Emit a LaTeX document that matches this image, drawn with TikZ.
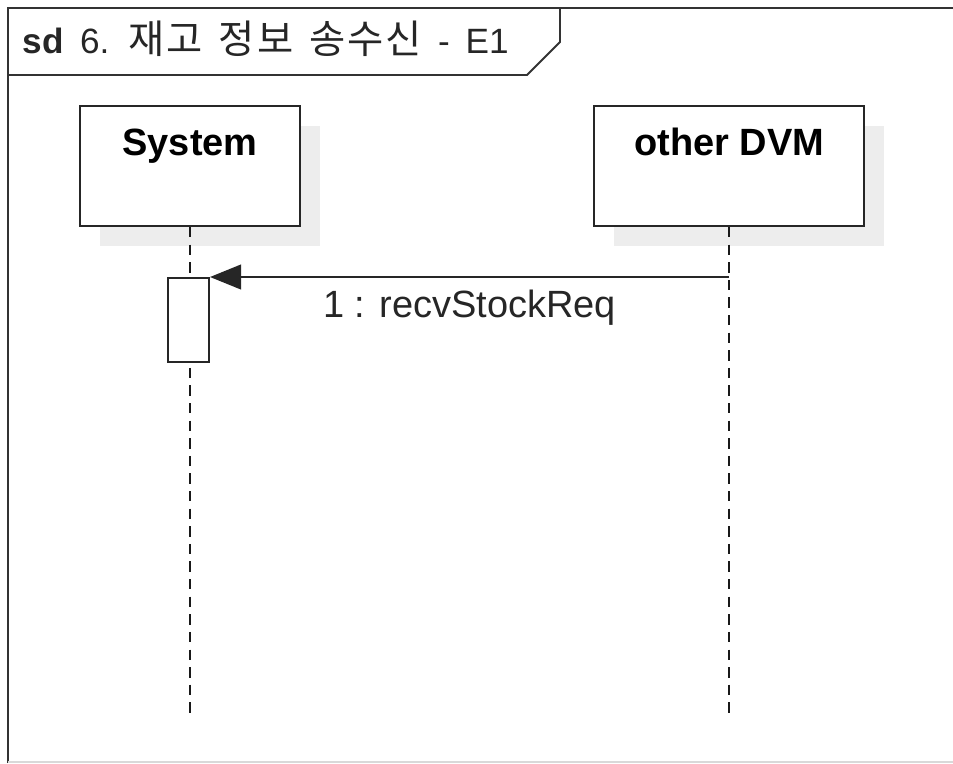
\documentclass[tikz,border=0pt]{standalone}
\usepackage{fontspec}
\setmainfont{Liberation Sans}
\newfontfamily\kr[Scale=1.12,LetterSpace=5]{Noto Sans CJK KR}
\usetikzlibrary{arrows.meta,positioning,shadows}

\begin{document}
\begin{tikzpicture}[x=0.025cm,y=-0.025cm,line width=1.4pt,
                    font=\fontsize{27}{32}\selectfont]
  \tikzstyle{head}=[draw=black!85,fill=white,inner sep=0pt,minimum width=5.5cm,
                    text height=1.25cm,text depth=1.75cm,font=\fontsize{27}{32}\selectfont\bfseries,
                    drop shadow={shadow xshift=0.5cm,shadow yshift=-0.5cm,opacity=1,fill=black!7}]
  \tikzstyle{life}=[draw=black!90,line width=1.6pt,dash pattern=on 0.26cm off 0.18cm]
  \tikzstyle{msg}=[draw=black!85,-{Triangle[length=0.78cm,width=0.62cm]}]

  \useasboundingbox (0,0) rectangle (953,763);

  % frame
  \draw[black!80] (8,763) -- (8,8) -- (960,8);
  \draw[black!15] (8,762) -- (960,762);
  \draw[black!80] (8,75) -- (527,75) -- (560,42) -- (560,8);
  \node[anchor=base west,inner sep=0pt,text=black!85,font=\fontsize{25}{30}\selectfont]
    (title) at (22,53) {\spaceskip=0.4cm \textbf{sd} 6. {\kr 재고 정보 송수신} - E1};

  % lifelines
  \node[head,anchor=north] (sys) at (190,105) {System};
  \node[head,minimum width=6.75cm,right=7.3cm of sys] (dvm) {other DVM};

  \coordinate[below=12.25cm of sys.south] (sysend);
  \coordinate[below=12.25cm of dvm.south] (dvmend);
  \draw[life] (sys.south) -- (sysend);
  \draw[life] (dvm.south) -- (dvmend);

  \node[draw=black!85,fill=white,minimum width=1.025cm,minimum height=2.1cm,inner sep=0pt]
    (act) at (188.5,320) {};

  \draw[msg] (dvm.south |- act.north east) -- node[below=0.3cm,inner sep=0pt,text=black!85]
    {1 : recvStockReq} (act.north east);
\end{tikzpicture}
\end{document}
